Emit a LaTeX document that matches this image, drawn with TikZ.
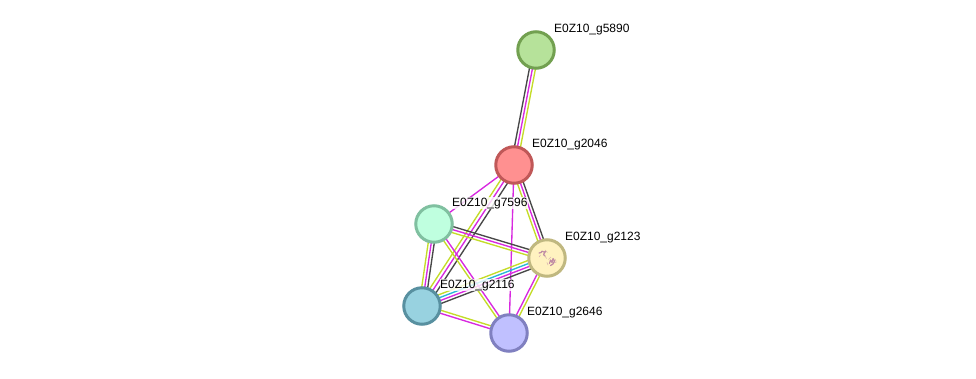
\documentclass[tikz,border=0pt]{standalone}
\usepackage{fontspec}
\setmainfont{Liberation Sans}
\usetikzlibrary{calc,backgrounds}
\definecolor{evblack}{HTML}{484848}
\definecolor{evmag}{HTML}{D828E0}
\definecolor{evyel}{HTML}{C4DC28}
\definecolor{evcyan}{HTML}{28B8D8}
\definecolor{icon}{HTML}{C08CA4}
\definecolor{fillA}{HTML}{B6E29A}\definecolor{ringA}{HTML}{72A050}
\definecolor{fillB}{HTML}{FF9090}\definecolor{ringB}{HTML}{C05858}
\definecolor{fillC}{HTML}{BFFFDF}\definecolor{ringC}{HTML}{80C0A0}
\definecolor{fillD}{HTML}{FFF2C0}\definecolor{ringD}{HTML}{C0B880}
\definecolor{fillE}{HTML}{98D2E0}\definecolor{ringE}{HTML}{5890A0}
\definecolor{fillF}{HTML}{C0C0FF}\definecolor{ringF}{HTML}{8080C0}
\tikzset{
  protein/.style n args={2}{circle,minimum size=36.5pt,inner sep=0pt,line width=3pt,fill=#1,draw=#2},
  tag/.style={anchor=base west,inner sep=0.4pt,fill=white,fill opacity=.8,text opacity=1,
    font=\fontsize{12pt}{14pt}\selectfont,text=black},
  evidence/.style={line width=1.35pt},
  fold/.style={draw=icon,line width=1.2pt,line join=round,line cap=round},
  foldthin/.style={draw=icon,line width=.6pt,opacity=.6,line cap=round}
}
% one parallel strand per evidence channel: {offset/colour,...}
\newcommand{\linkstrands}[3]{%
  \foreach \off/\col in {#3}{%
    \draw[evidence,draw=\col] ($(#1)!\off pt!90:(#2)$) -- ($(#2)!\off pt!-90:(#1)$);
  }%
}
\begin{document}
\begin{tikzpicture}[x=1pt,y=-1pt]
\useasboundingbox (0,0) rectangle (976,378);

% proteins
\node[protein={fillA}{ringA}] (g5890) at (536,50) {};
\node[protein={fillB}{ringB}] (g2046) at (514,165) {};
\node[protein={fillC}{ringC}] (g7596) at (434,224) {};
\node[protein={fillD}{ringD}] (g2123) at (547,258) {};
\node[protein={fillE}{ringE}] (g2116) at (422,306) {};
\node[protein={fillF}{ringF}] (g2646) at (509,333) {};

% structure thumbnail inside g2123
\begin{scope}[shift={(g2123.center)}]
  \draw[fold] (-8,-5) -- (-6,-5.5) -- (-5,-6.8) -- (-3,-6) -- (-1.5,-6.5) -- (-3.5,-3.5) -- (-2,-2);
  \draw[fold] (2.5,5.5) -- (3.5,2) -- (5,4.5) -- (6,0.5) -- (7.5,3) -- (6,6) -- (3.5,7.5);
  \draw[foldthin] (-6.5,-3) -- (-8,-1) (6.5,5) -- (9.5,4) (8,1) -- (9,3) (4,-1) -- (1.5,1.5)
    (-2,-8) -- (0.5,-5.5) (1,7) -- (0,4.5) (-2,-2) -- (-0.5,0.5);
\end{scope}

% evidence channels between proteins
\begin{scope}[on background layer]
  \fill[white] (0,0) rectangle (976,378);
  \linkstrands{g5890}{g2046}{-3/evblack,0/evmag,3/evyel}
  \linkstrands{g2046}{g2123}{3/evblack,0/evmag,-3/evyel}
  \linkstrands{g2046}{g7596}{0/evmag}
  \linkstrands{g2046}{g2646}{0/evmag}
  \linkstrands{g2046}{g2116}{4.5/evblack,0.5/evmag,-3/evyel}
  \linkstrands{g7596}{g2123}{3/evblack,0/evmag,-3/evyel}
  \linkstrands{g7596}{g2116}{3/evblack,0/evmag,-3/evyel}
  \linkstrands{g7596}{g2646}{1.5/evmag,-1.5/evyel}
  \linkstrands{g2123}{g2116}{-4.5/evyel,-1.5/evcyan,1.5/evmag,4.5/evblack}
  \linkstrands{g2123}{g2646}{1.5/evyel,-1.5/evmag}
  \linkstrands{g2116}{g2646}{1.5/evyel,-1.5/evmag}
\end{scope}

% labels
\node[tag] (t5890) at (553.5,32) {E0Z10\_g5890};
\node[tag] (t2046) at (531.5,147) {E0Z10\_g2046};
\node[tag] (t7596) at (451.5,206) {E0Z10\_g7596};
\node[tag] (t2123) at (564.5,240) {E0Z10\_g2123};
\node[tag] (t2116) at (439.5,288) {E0Z10\_g2116};
\node[tag] (t2646) at (526.5,315) {E0Z10\_g2646};
\end{tikzpicture}
\end{document}
